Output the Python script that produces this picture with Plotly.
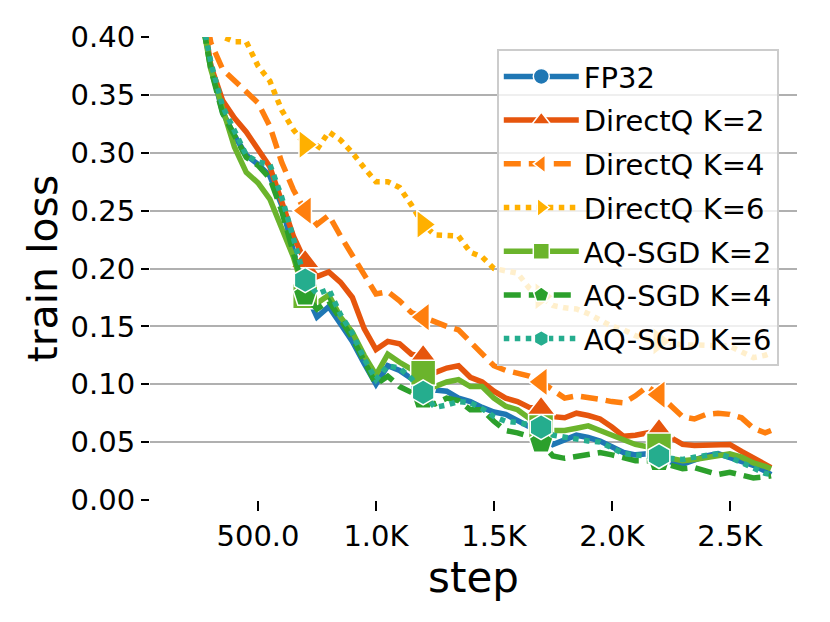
import plotly.graph_objects as go

steps = [250, 300, 350, 400, 450, 500, 550, 600, 650, 700, 750, 800, 850, 900, 950,
         1000, 1050, 1100, 1150, 1200, 1250, 1300, 1350, 1400, 1450, 1500, 1550, 1600,
         1650, 1700, 1750, 1800, 1850, 1900, 1950, 2000, 2050, 2100, 2150, 2200, 2250,
         2300, 2350, 2400, 2450, 2500, 2550, 2600, 2650, 2675]

fp32 = [0.430, 0.375, 0.335, 0.315, 0.298, 0.290, 0.280, 0.255, 0.215, 0.180,
        0.158, 0.167, 0.152, 0.137, 0.118, 0.100, 0.116, 0.112, 0.105, 0.098,
        0.095, 0.094, 0.088, 0.085, 0.080, 0.076, 0.074, 0.069, 0.064, 0.058,
        0.048, 0.052, 0.056, 0.054, 0.051, 0.046, 0.041, 0.039, 0.040, 0.039,
        0.033, 0.031, 0.035, 0.038, 0.040, 0.037, 0.034, 0.030, 0.025, 0.022]

directq_k2 = [0.440, 0.375, 0.345, 0.330, 0.318, 0.303, 0.288, 0.258, 0.228, 0.206,
              0.193, 0.197, 0.188, 0.175, 0.148, 0.130, 0.137, 0.135, 0.126, 0.124,
              0.110, 0.114, 0.116, 0.106, 0.102, 0.094, 0.088, 0.085, 0.080, 0.079,
              0.072, 0.071, 0.075, 0.073, 0.070, 0.063, 0.055, 0.056, 0.058, 0.060,
              0.054, 0.048, 0.047, 0.047, 0.048, 0.048, 0.042, 0.036, 0.031, 0.028]

directq_k4 = [0.450, 0.395, 0.372, 0.362, 0.353, 0.343, 0.323, 0.292, 0.268, 0.250,
              0.238, 0.246, 0.228, 0.212, 0.194, 0.178, 0.180, 0.172, 0.162, 0.158,
              0.153, 0.150, 0.147, 0.137, 0.126, 0.116, 0.112, 0.110, 0.107, 0.102,
              0.095, 0.088, 0.090, 0.089, 0.087, 0.085, 0.084, 0.090, 0.098, 0.091,
              0.081, 0.072, 0.070, 0.074, 0.075, 0.074, 0.071, 0.062, 0.058, 0.060]

directq_k6 = [0.450, 0.415, 0.400, 0.396, 0.396, 0.375, 0.362, 0.337, 0.320, 0.307,
              0.303, 0.318, 0.311, 0.300, 0.287, 0.275, 0.275, 0.270, 0.255, 0.238,
              0.229, 0.229, 0.228, 0.214, 0.210, 0.200, 0.198, 0.196, 0.183, 0.176,
              0.168, 0.166, 0.165, 0.161, 0.156, 0.150, 0.147, 0.142, 0.139, 0.137,
              0.135, 0.134, 0.134, 0.134, 0.133, 0.133, 0.128, 0.123, 0.125, 0.127]

aqsgd_k2 = [0.430, 0.372, 0.338, 0.305, 0.283, 0.274, 0.260, 0.236, 0.210, 0.176,
            0.170, 0.177, 0.158, 0.145, 0.125, 0.108, 0.126, 0.119, 0.113, 0.110,
            0.098, 0.102, 0.104, 0.098, 0.098, 0.088, 0.081, 0.078, 0.070, 0.063,
            0.060, 0.060, 0.062, 0.064, 0.060, 0.056, 0.053, 0.048, 0.046, 0.047,
            0.036, 0.034, 0.035, 0.037, 0.038, 0.040, 0.037, 0.032, 0.029, 0.027]

aqsgd_k4 = [0.430, 0.372, 0.334, 0.314, 0.296, 0.289, 0.278, 0.250, 0.212, 0.177,
            0.165, 0.172, 0.156, 0.140, 0.120, 0.100, 0.107, 0.098, 0.093, 0.088,
            0.083, 0.088, 0.086, 0.078, 0.078, 0.068, 0.060, 0.058, 0.055, 0.050,
            0.038, 0.036, 0.038, 0.040, 0.041, 0.039, 0.036, 0.034, 0.034, 0.034,
            0.030, 0.027, 0.028, 0.025, 0.022, 0.024, 0.021, 0.019, 0.020, 0.021]

aqsgd_k6 = [0.430, 0.378, 0.340, 0.318, 0.298, 0.292, 0.290, 0.262, 0.224, 0.190,
            0.178, 0.182, 0.160, 0.144, 0.122, 0.104, 0.116, 0.114, 0.105, 0.093,
            0.080, 0.082, 0.085, 0.084, 0.079, 0.072, 0.068, 0.067, 0.065, 0.063,
            0.056, 0.054, 0.052, 0.051, 0.050, 0.045, 0.040, 0.039, 0.038, 0.038,
            0.036, 0.035, 0.037, 0.039, 0.040, 0.037, 0.032, 0.027, 0.023, 0.022]

marker_steps = [700, 1200, 1700, 2200]

x_tickvals = [500, 1000, 1500, 2000, 2500]
x_ticktext = ['500.0', '1.0K', '1.5K', '2.0K', '2.5K']
y_tickvals = [0.0, 0.05, 0.10, 0.15, 0.20, 0.25, 0.30, 0.35, 0.40]

series = [
    ('FP32', fp32, '#1f77b4', 'solid', 'circle'),
    ('DirectQ K=2', directq_k2, '#e6550d', 'solid', 'triangle-up'),
    ('DirectQ K=4', directq_k4, '#ff7f0e', '17px,8px', 'triangle-left'),
    ('DirectQ K=6', directq_k6, '#ffb000', 'dot', 'triangle-right'),
    ('AQ-SGD K=2', aqsgd_k2, '#6bb42c', 'solid', 'square'),
    ('AQ-SGD K=4', aqsgd_k4, '#2ca02c', '17px,8px', 'pentagon'),
    ('AQ-SGD K=6', aqsgd_k6, '#25ad8e', 'dot', 'hexagon'),
]

fig = go.Figure()
for name, vals, color, dash, symbol in series:
    fig.add_trace(go.Scatter(
        x=steps, y=vals, mode='lines', legendgroup=name, showlegend=False,
        line=dict(color=color, width=5.5, dash=dash),
    ))
    # markers every 500 steps, gaps so no segment is drawn between them
    mx, my = [], []
    for s in marker_steps:
        mx += [s, None]
        my += [vals[steps.index(s)], None]
    fig.add_trace(go.Scatter(
        x=mx, y=my, mode='lines+markers', name=name, legendgroup=name,
        line=dict(color=color, width=5.5, dash=dash),
        marker=dict(symbol=symbol, size=25, color=color,
                    line=dict(color='white', width=1.5)),
    ))

fig.update_layout(
    width=830, height=622,
    margin=dict(l=142, r=41, t=24, b=130),
    paper_bgcolor='white',
    plot_bgcolor='white',
    font=dict(family='DejaVu Sans', color='black', size=29),
    xaxis=dict(
        range=[42, 2785],
        tickvals=x_tickvals, ticktext=x_ticktext,
        showgrid=False, zeroline=False, showline=False,
        ticks='outside', ticklen=10, tickwidth=2, tickcolor='black',
        tickfont=dict(size=29),
        title=dict(text='step', font=dict(size=42), standoff=8),
    ),
    yaxis=dict(
        range=[0, 0.4],
        tickvals=y_tickvals, tickformat='.2f',
        showgrid=True, gridcolor='#b0b0b0', gridwidth=1.6,
        zeroline=False, showline=False,
        ticks='outside', ticklen=8, tickwidth=2, tickcolor='black',
        tickfont=dict(size=29),
        title=dict(text='train loss', font=dict(size=41), standoff=0),
    ),
    legend=dict(
        x=0.536, y=0.974, xanchor='left', yanchor='top',
        bgcolor='rgba(255,255,255,0.8)',
        bordercolor='#cccccc', borderwidth=2,
        font=dict(size=29),
        tracegroupgap=3,
        itemwidth=75,
    ),
)

fig.write_html('out.html')
